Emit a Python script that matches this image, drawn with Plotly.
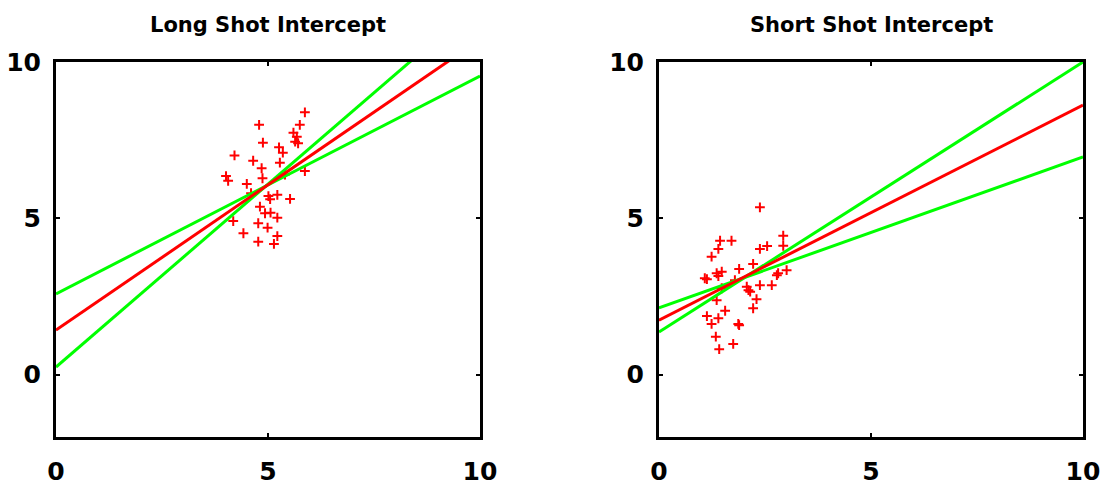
import plotly.graph_objects as go

# Left panel: "Long Shot Intercept"
long_x = [5.87, 4.79, 5.75, 5.60, 5.68, 5.64, 5.71, 4.88, 5.26, 5.35, 4.21, 4.65, 5.28, 4.85,
          5.87, 4.01, 4.06, 4.87, 4.50, 5.01, 5.05, 5.22, 5.52, 4.81, 4.93, 5.06, 5.22, 4.18,
          4.77, 4.99, 4.42, 5.22, 4.77, 5.14, 4.60, 5.40]
long_y = [8.39, 7.99, 7.99, 7.74, 7.61, 7.45, 7.40, 7.42, 7.27, 7.10, 7.01, 6.84, 6.78, 6.60,
          6.51, 6.35, 6.20, 6.28, 6.10, 5.71, 5.61, 5.75, 5.62, 5.37, 5.16, 5.18, 5.02, 4.91,
          4.84, 4.70, 4.52, 4.43, 4.25, 4.18, 5.80, 6.40]

# Right panel: "Short Shot Intercept"
short_x = [2.38, 2.93, 1.44, 1.71, 1.40, 2.38, 2.55, 2.93, 1.24, 2.22, 1.89, 1.36, 1.48, 1.40,
           1.08, 1.13, 3.01, 2.78, 2.81, 1.79, 2.38, 2.66, 2.07, 2.11, 2.15, 1.48, 2.30, 1.36,
           2.22, 1.56, 1.13, 1.40, 1.24, 1.87, 1.89, 1.34, 1.42, 1.75]
short_y = [5.35, 4.44, 4.28, 4.28, 4.02, 4.02, 4.11, 4.12, 3.77, 3.54, 3.38, 3.24, 3.29, 3.15,
           3.08, 3.05, 3.34, 3.18, 3.24, 3.02, 2.86, 2.86, 2.81, 2.70, 2.65, 2.76, 2.41, 2.38,
           2.12, 2.04, 1.87, 1.80, 1.62, 1.62, 1.58, 1.21, 0.81, 0.98]

line_x = [0, 10]
# fitted lines: values at x=0 and x=10
long_red = [1.42, 10.72]
long_green_a = [0.24, 11.94]
long_green_b = [2.58, 9.55]
short_red = [1.74, 8.62]
short_green_a = [1.36, 10.0]
short_green_b = [2.13, 6.96]

titles = ["Long Shot Intercept", "Short Shot Intercept"]
x_ticks = [0, 5, 10]
y_ticks = [0, 5, 10]

W, H = 1105, 489
dom_x = [[56 / W, 480 / W], [659 / W, 1083 / W]]
dom_y = [(H - 437) / H, (H - 62) / H]

RED = "#ff0000"
GREEN = "#00ff00"

fig = go.Figure()

panels = [
    (long_x, long_y, [long_green_a, long_green_b], long_red),
    (short_x, short_y, [short_green_a, short_green_b], short_red),
]

for i, (sx, sy, greens, red) in enumerate(panels):
    xa = "x" if i == 0 else "x2"
    ya = "y" if i == 0 else "y2"
    fig.add_trace(go.Scatter(x=sx, y=sy, mode="markers", xaxis=xa, yaxis=ya,
                             marker=dict(symbol="cross-thin-open", size=7, color=RED,
                                         line=dict(color=RED, width=2)),
                             showlegend=False, hoverinfo="skip"))
    for g in greens:
        fig.add_trace(go.Scatter(x=line_x, y=g, mode="lines", xaxis=xa, yaxis=ya,
                                 line=dict(color=GREEN, width=3), showlegend=False))
    fig.add_trace(go.Scatter(x=line_x, y=red, mode="lines", xaxis=xa, yaxis=ya,
                             line=dict(color=RED, width=3), showlegend=False))

axis_common = dict(showgrid=False, zeroline=False, showline=True, linecolor="black",
                   linewidth=3, mirror="ticks", ticks="inside", ticklen=4, tickwidth=2,
                   tickcolor="black", automargin=False,
                   tickfont=dict(family="DejaVu Sans", size=25, color="black", weight="bold"))

layout_axes = {}
for i in range(2):
    sfx = "" if i == 0 else "2"
    layout_axes["xaxis" + sfx] = dict(domain=dom_x[i], range=[0, 10], tickvals=x_ticks,
                                      anchor="y" + sfx, ticklabelstandoff=10, **axis_common)
    layout_axes["yaxis" + sfx] = dict(domain=dom_y, range=[-2, 10], tickvals=y_ticks,
                                      anchor="x" + sfx, ticklabelstandoff=7, **axis_common)

annotations = []
for i, t in enumerate(titles):
    annotations.append(dict(text=t, x=(dom_x[i][0] + dom_x[i][1]) / 2, y=(H - 25) / H,
                            xref="paper", yref="paper", xanchor="center", yanchor="middle",
                            showarrow=False,
                            font=dict(family="DejaVu Sans", size=21, color="black",
                                      weight="bold")))

fig.update_layout(width=W, height=H, margin=dict(l=0, r=0, t=0, b=0, autoexpand=False),
                  plot_bgcolor="white", paper_bgcolor="white",
                  annotations=annotations, **layout_axes)

fig.write_html("out.html")
